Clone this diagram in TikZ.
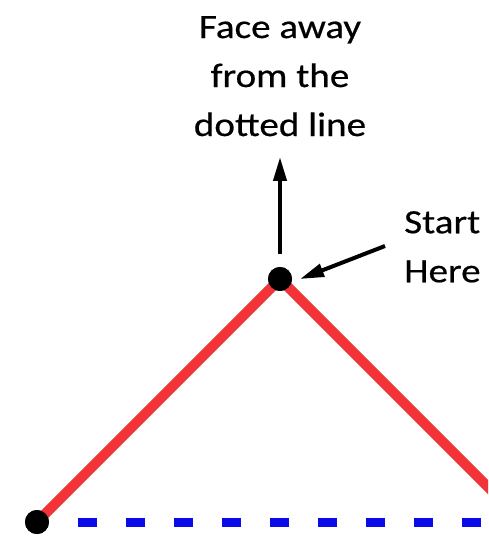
\documentclass[tikz,border=0pt]{standalone}
\usepackage{fontspec}
\setmainfont[FakeStretch=1.15,FakeBold=0.5]{Carlito}
\usetikzlibrary{arrows.meta}
\definecolor{redl}{RGB}{242,52,56}
\definecolor{bluel}{RGB}{10,10,235}
\tikzset{
  dot/.style={circle,fill=black,minimum size=24pt,inner sep=0pt},
  redline/.style={draw=redl,line width=10pt},
  blueline/.style={draw=bluel,line width=9pt,dash pattern=on 19pt off 29pt},
  arr/.style={draw=black,line width=4pt,-{Triangle[length=24pt,width=13pt]}},
  lbl/.style={font=\fontsize{34}{49}\selectfont,inner sep=0pt},
}
\begin{document}
\begin{tikzpicture}[x=1pt,y=-1pt]
\clip (0,0) rectangle (488,537);
\fill[white] (0,0) rectangle (488,537);
\coordinate (rend) at (500,499);
\coordinate (dstart) at (78,522);
\coordinate (dend) at (500,522);
\coordinate (upstart) at (280,254);
\coordinate (upend) at (280,157);
\coordinate (pstart) at (385,246);
\coordinate (ptip) at (300,279);
\node[dot] (top) at (280,279) {};
\node[dot] (ld) at (37,522) {};
\draw[redline] (ld.center) -- (top.center) -- (rend);
\draw[blueline] (dstart) -- (dend);
\node[dot] at (top) {};
\node[dot] at (ld) {};
\draw[arr] (upstart) -- (upend);
\draw[arr] (pstart) -- (ptip);
\node[lbl,align=center,anchor=north] (face) at (280,16) {Face away\\from the\\dotted line};
\node[lbl,align=left,anchor=north west] (start) at (404,211) {Start\\Here};
\end{tikzpicture}
\end{document}
